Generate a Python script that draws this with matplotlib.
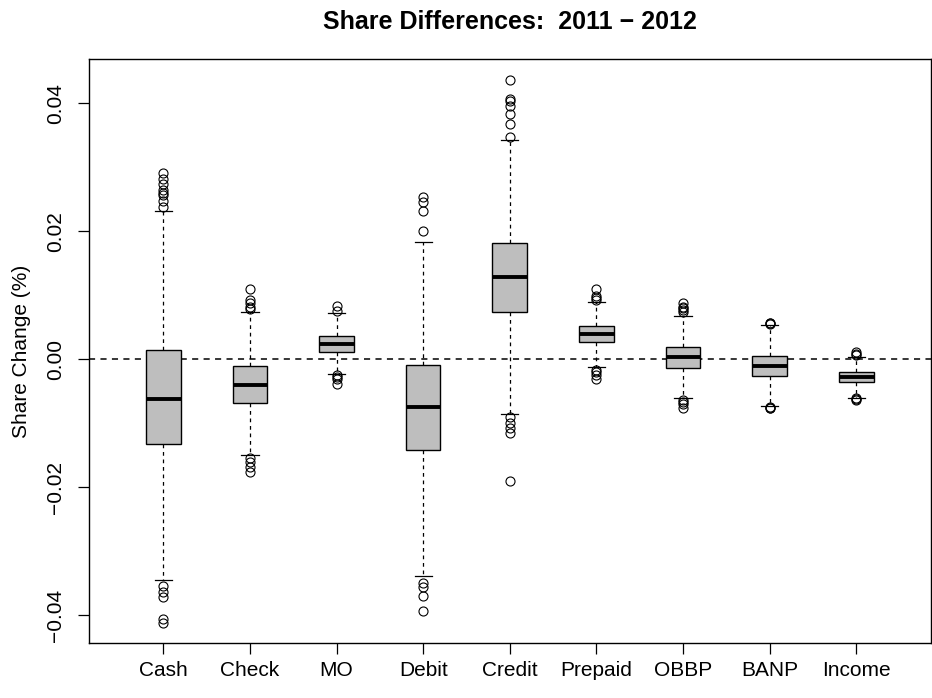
"""R-style boxplot of payment share differences, 2011 - 2012."""

import matplotlib
matplotlib.use("Agg")
import matplotlib.pyplot as plt

plt.rcParams["font.family"] = ["Liberation Sans", "DejaVu Sans"]

CATEGORIES = ["Cash", "Check", "MO", "Debit", "Credit", "Prepaid", "OBBP", "BANP", "Income"]

# five-number summaries (whisker low, Q1, median, Q3, whisker high)
WHISLO = [-0.03444, -0.01498, -0.00230, -0.03386, -0.00859, -0.00127, -0.00600, -0.00730, -0.00600]
Q1 = [-0.01323, -0.00683, 0.00117, -0.01411, 0.00744, 0.00263, -0.00131, -0.00256, -0.00359]
MEDIAN = [-0.00627, -0.00406, 0.00239, -0.00738, 0.01291, 0.00391, 0.00041, -0.00100, -0.00281]
Q3 = [0.00145, -0.00109, 0.00361, -0.00086, 0.01819, 0.00523, 0.00188, 0.00056, -0.00203]
WHISHI = [0.02323, 0.00744, 0.00716, 0.01830, 0.03422, 0.00902, 0.00677, 0.00536, 0.00041]

OUTLIERS = [
    [0.02917, 0.02817, 0.02731, 0.02645, 0.02600, 0.02573, 0.02473, 0.02380,
     -0.03542, -0.03630, -0.03714, -0.04066, -0.04120],
    [0.01105, 0.00930, 0.00872, 0.00817, 0.00790,
     -0.01550, -0.01605, -0.01683, -0.01759],
    [0.00825, 0.00755, -0.00248, -0.00280, -0.00308, -0.00389],
    [0.02539, 0.02452, 0.02323, 0.02005,
     -0.03502, -0.03558, -0.03705, -0.03933],
    [0.04358, 0.04067, 0.04036, 0.03950, 0.03834, 0.03672, 0.03469,
     -0.00900, -0.00988, -0.01073, -0.01150, -0.01898],
    [0.01092, 0.00989, 0.00960, 0.00930,
     -0.00173, -0.00200, -0.00248, -0.00308],
    [0.00875, 0.00820, 0.00797, 0.00770, 0.00744,
     -0.00636, -0.00660, -0.00698, -0.00766],
    [0.00563, 0.00570, 0.00556, -0.00745, -0.00755, -0.00760],
    [0.00109, 0.00090, 0.00067, -0.00609, -0.00620, -0.00636],
]

Y_TICKS = [-0.04, -0.02, 0.00, 0.02, 0.04]
Y_TICK_LABELS = ["\u22120.04", "\u22120.02", "0.00", "0.02", "0.04"]


def main() -> None:
    fig = plt.figure(figsize=(9.32, 6.98), dpi=100)
    ax = fig.add_axes([88.8 / 932, 1 - 643.3 / 698, (930.8 - 88.8) / 932, (643.3 - 59) / 698])

    stats = []
    for i, name in enumerate(CATEGORIES):
        stats.append({
            "label": name,
            "whislo": WHISLO[i], "q1": Q1[i], "med": MEDIAN[i],
            "q3": Q3[i], "whishi": WHISHI[i], "fliers": OUTLIERS[i],
        })

    ax.axhline(0, color="black", lw=1.1, ls=(0, (4, 3.5)), zorder=1)

    ax.bxp(
        stats,
        positions=range(1, len(CATEGORIES) + 1),
        widths=0.4,
        capwidths=0.2,
        patch_artist=True,
        showfliers=True,
        boxprops=dict(facecolor="#BEBEBE", edgecolor="black", linewidth=1.0),
        medianprops=dict(color="black", linewidth=2.8, solid_capstyle="butt"),
        whiskerprops=dict(color="black", linewidth=0.9, linestyle=(0, (3, 3))),
        capprops=dict(color="black", linewidth=0.9),
        flierprops=dict(marker="o", markerfacecolor="none", markeredgecolor="black",
                        markersize=6.5, markeredgewidth=0.8),
        zorder=2,
    )

    ax.set_xlim(0.14, len(CATEGORIES) + 0.86)
    ax.set_ylim(-0.04438, 0.04692)
    ax.set_yticks(Y_TICKS)
    ax.set_yticklabels(Y_TICK_LABELS, rotation=90, va="center")
    ax.set_xticks(range(1, len(CATEGORIES) + 1))
    ax.set_xticklabels(CATEGORIES)
    ax.tick_params(axis="both", labelsize=15, length=8, width=0.9, direction="out")
    ax.tick_params(axis="x", pad=5)
    ax.tick_params(axis="y", pad=9)
    for side in ax.spines.values():
        side.set_linewidth(1.0)

    ax.set_ylabel("Share Change (%)", fontsize=15)
    ax.yaxis.set_label_coords(-0.0686, 0.5)

    fig.text((88.8 + 930.8) / 2 / 932, 1 - 22 / 698, "Share Differences:  2011 \u2212 2012",
             ha="center", va="center", fontsize=18, fontweight="bold")

    fig.savefig("out.png", dpi=100)


if __name__ == "__main__":
    main()
